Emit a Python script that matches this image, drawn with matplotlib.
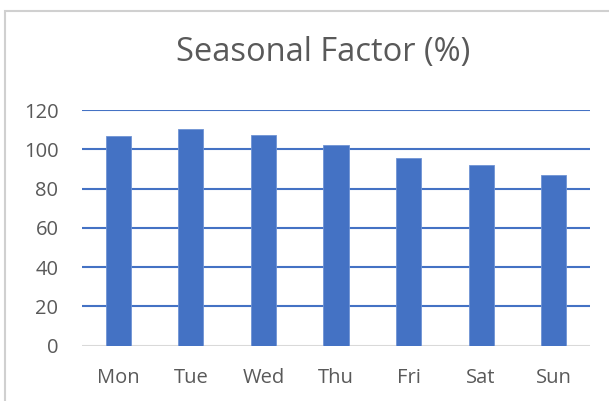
import matplotlib
matplotlib.use("Agg")
import matplotlib.pyplot as plt
from matplotlib.patches import Rectangle

days = ["Mon", "Tue", "Wed", "Thu", "Fri", "Sat", "Sun"]
seasonal_factor = [106.9, 110.3, 107.1, 102.0, 95.4, 92.2, 86.8]
y_ticks = [0, 20, 40, 60, 80, 100, 120]

W, H, DPI = 609, 401, 100
BLUE = "#4472C4"
TEXT = "#595959"
plt.rcParams["font.family"] = ["Open Sans", "DejaVu Sans"]

fig = plt.figure(figsize=(W / DPI, H / DPI), dpi=DPI)
fig.patch.set_facecolor("white")

# chart frame (runs past the right and bottom edges)
fig.patches.append(Rectangle((5 / W, -0.1), 1.2, 1 - 11 / H + 0.1,
                             transform=fig.transFigure, fill=False,
                             edgecolor="#D0D0D0", linewidth=1.5))

left, right = 82 / W, 590 / W
bottom, top = 1 - 345.7 / H, 1 - 110 / H
ax = fig.add_axes([left, bottom, right - left, top - bottom])

x = range(len(days))
ax.bar(x, seasonal_factor, width=0.345, color=BLUE, zorder=3,
       edgecolor="#6F93D4", linewidth=0.6)

ax.set_xlim(-0.5, len(days) - 0.5)
ax.set_ylim(0, 120)
ax.set_yticks(y_ticks)
ax.set_xticks(list(x))
ax.set_xticklabels(days)

for t in y_ticks[1:]:
    ax.axhline(t, color=BLUE, linewidth=1.5, zorder=1)
ax.axhline(0, color="#D9D9D9", linewidth=1.5, zorder=2)

for s in ax.spines.values():
    s.set_visible(False)
ax.tick_params(axis="both", length=0, labelsize=14.5, colors=TEXT)
ax.tick_params(axis="y", pad=17)
ax.tick_params(axis="x", pad=16)

fig.text(323 / W, 1 - 53 / H, "Seasonal Factor (%)", ha="center", va="center",
         fontsize=23.5, color=TEXT)

fig.savefig("out.png", dpi=DPI, facecolor="white")
